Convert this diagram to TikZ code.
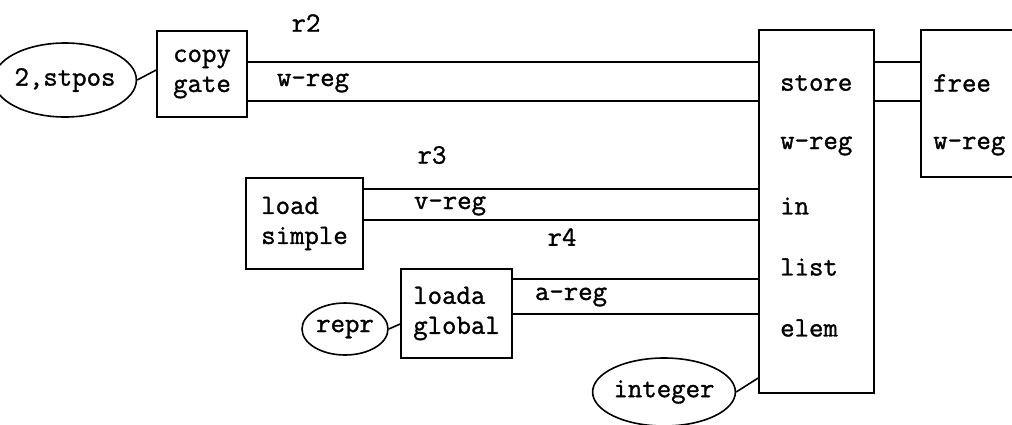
\documentclass[tikz,border=0pt]{standalone}
\usepackage{fontspec}
\newfontfamily\typewriter{Latin Modern Mono}[FakeBold=1.2]
\usetikzlibrary{shapes.geometric}
\begin{document}
\begin{tikzpicture}[x=1pt,y=-1pt,
  every node/.style={font=\fontsize{28}{30}\selectfont\typewriter, inner sep=0pt},
  box/.style={draw, rectangle, line width=1.6pt},
  oval/.style={draw, ellipse, line width=1.6pt},
  wire/.style={line width=1.6pt},
  tag/.style={anchor=west}]
\useasboundingbox (0,0) rectangle (1012,424);
\clip (0,0) rectangle (1012,424);

% boxes and ovals
\node[oval, minimum width=116pt, minimum height=74pt] (stpos) at (65,80) {2,stpos};
\node[box, minimum width=90pt, minimum height=86pt, align=left] (copy) at (202,74) {copy\\gate};
\node[box, minimum width=115pt, minimum height=363pt] (main) at (816.5,211.5) {};
\node[box, minimum width=130pt, minimum height=147pt] (free) at (986,103.5) {};
\node[box, minimum width=117pt, minimum height=91pt, align=left] (load) at (304.5,223.5) {load\\simple};
\node[box, minimum width=111pt, minimum height=89pt, align=left] (loada) at (456.5,313.5) {loada\\global};
\node[oval, minimum width=86pt, minimum height=52pt] (repr) at (345,329) {repr};
\node[oval, minimum width=118pt, minimum height=68pt] (integer) at (664,392) {integer};

% entries of the main box
\node[tag] (mstore) at (780,83) {store};
\node[tag] (mwreg) at (780,146) {w-reg};
\node[tag] (min) at (780,206) {in};
\node[tag] (mlist) at (780,267) {list};
\node[tag] (melem) at (780,328) {elem};

% entries of the free box
\node[tag] (ffree) at (933,83) {free};
\node[tag] (fwreg) at (933,146) {w-reg};

% register channels
\draw[wire] (copy.east |- 0,62) -- (main.west |- 0,62);
\draw[wire] (copy.east |- 0,101) -- (main.west |- 0,101);
\draw[wire] (main.east |- 0,62) -- (free.west |- 0,62);
\draw[wire] (main.east |- 0,101) -- (free.west |- 0,101);
\draw[wire] (load.east |- 0,189) -- (main.west |- 0,189);
\draw[wire] (load.east |- 0,220) -- (main.west |- 0,220);
\draw[wire] (loada.east |- 0,279) -- (main.west |- 0,279);
\draw[wire] (loada.east |- 0,314) -- (main.west |- 0,314);

% channel labels
\node (r2) at (306,23) {r2};
\node (cw) at (313,83) {w-reg};
\node (r3) at (432,155) {r3};
\node (cv) at (450,206) {v-reg};
\node (r4) at (562,237) {r4};
\node (ca) at (571,297) {a-reg};

% parameter links
\draw[wire] (stpos.east) -- (copy.west |- 0,70);
\draw[wire] (repr.east) -- (loada.west |- 0,324);
\draw[wire] (integer.east) -- (main.west |- 0,378);
\end{tikzpicture}
\end{document}
